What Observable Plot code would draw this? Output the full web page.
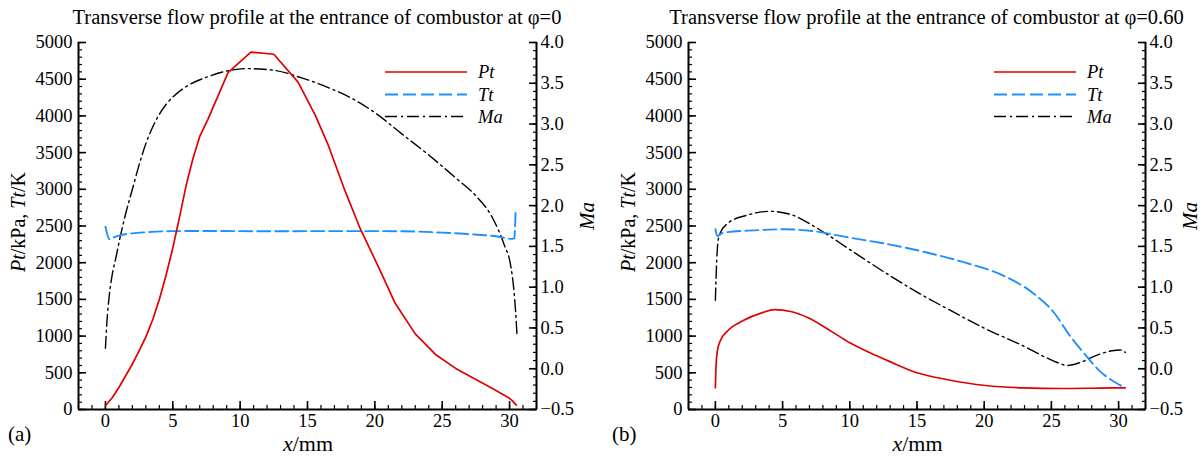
<!DOCTYPE html>
<html><head><meta charset="utf-8">
<script src="https://cdn.jsdelivr.net/npm/d3@7"></script>
<script src="https://cdn.jsdelivr.net/npm/@observablehq/plot@0.6"></script>
<style>
body{margin:0;background:#fff;}
#wrap{display:flex;width:1201px;height:457px;overflow:hidden;}
svg text{font-family:"Liberation Serif","Times New Roman",serif;}
</style></head><body><div id="wrap"></div>
<script>
// ---------- data (a) φ=0 ----------
const ptXA = [0, 0.5, 1, 1.5, 2, 2.5, 3, 3.5, 4, 4.5, 5, 5.5, 6, 6.5, 7, 7.6, 9.1, 10.8, 12.5, 14.3, 15.6, 16.5, 17.7, 18.9, 20.3, 21.5, 23, 24.5, 26, 27.5, 28.8, 29.9, 30.2, 30.5];
const ptA  = [50, 160, 300, 460, 620, 800, 990, 1220, 1500, 1830, 2200, 2620, 3060, 3420, 3720, 3950, 4590, 4870, 4840, 4460, 4000, 3620, 3020, 2470, 1930, 1450, 1030, 750, 560, 410, 280, 165, 120, 60];
const ttXA = [0, 0.3, 0.6, 1, 2, 3, 5, 8, 12, 16, 20, 23, 25, 27, 29, 30.2, 30.35, 30.45];
const ttA  = [2490, 2320, 2345, 2370, 2400, 2415, 2430, 2432, 2428, 2430, 2430, 2425, 2410, 2390, 2360, 2325, 2330, 2700];
const maXA = [0, 0.1, 0.3, 0.5, 0.8, 1.1, 1.5, 2, 2.5, 3, 3.5, 4, 4.5, 5, 6, 7.6, 9, 10.5, 12.5, 14.5, 16.5, 18, 20, 22, 24, 26, 27.5, 28.7, 29.6, 30.1, 30.3, 30.45, 30.55];
const maA  = [0.25, 0.55, 0.92, 1.15, 1.38, 1.62, 1.9, 2.2, 2.5, 2.76, 2.96, 3.12, 3.24, 3.33, 3.46, 3.58, 3.65, 3.68, 3.66, 3.57, 3.45, 3.34, 3.14, 2.88, 2.62, 2.34, 2.12, 1.86, 1.52, 1.25, 1.0, 0.7, 0.42];
// ---------- data (b) φ=0.60 ----------
const ptXB = [0, 0.05, 0.15, 0.35, 0.9, 2, 3.5, 4.4, 5.6, 6.9, 8.6, 10, 11.5, 12.9, 15, 17.2, 20.1, 22.9, 25.8, 28.6, 30.5];
const ptB  = [295, 600, 800, 930, 1070, 1205, 1320, 1360, 1335, 1250, 1068, 909, 773, 659, 500, 409, 327, 295, 286, 292, 295];
const ttXB = [0, 0.15, 0.6, 2.9, 5.1, 7.2, 10, 12.9, 15.8, 18.6, 21.5, 23.6, 25.2, 26.3, 27.5, 28.6, 29.8, 30.5];
const ttB  = [2455, 2364, 2410, 2441, 2455, 2432, 2341, 2250, 2136, 2000, 1818, 1591, 1318, 1023, 750, 523, 364, 295];
const maXB = [0, 0.1, 0.2, 0.35, 0.9, 2.3, 4.1, 5.8, 7.5, 10.1, 12.9, 15.1, 17.2, 20.1, 22.9, 25.1, 26.2, 27.2, 28.3, 29.5, 30.1, 30.5];
const maB  = [0.84, 1.33, 1.57, 1.66, 1.78, 1.88, 1.93, 1.88, 1.73, 1.45, 1.15, 0.93, 0.74, 0.49, 0.28, 0.10, 0.04, 0.08, 0.16, 0.22, 0.23, 0.20];
// ---------- ticks & labels ----------
const xTicks  = [0, 5, 10, 15, 20, 25, 30];
const yTicks  = [0, 500, 1000, 1500, 2000, 2500, 3000, 3500, 4000, 4500, 5000];
const maTicks = [-0.5, 0, 0.5, 1.0, 1.5, 2.0, 2.5, 3.0, 3.5, 4.0];
const titles  = ["Transverse flow profile at the entrance of combustor at φ=0",
                 "Transverse flow profile at the entrance of combustor at φ=0.60"];
const panelTags = ["(a)", "(b)"];
const seriesNames = ["Pt", "Tt", "Ma"];

const xMinor  = d3.range(-2, 33, 1);
const yMinor  = d3.range(0, 5001, 100);
const maMinor = d3.range(-5, 41, 1).map(d => d / 10);

const maToY = m => (m + 0.5) * 5000 / 4.5;
const yToMa = y => Math.round((y * 4.5 / 5000 - 0.5) * 10) / 10;
const rows = (xs, vs, f = v => v) => xs.map((x, i) => ({x, v: f(vs[i])}));

const RED = "#e00000", BLUE = "#1e8fff", BLACK = "#000";

function panel({width, mL, mR, px, p, tx, t, mx, m, idx, maOff, tagX}) {
  const W = width - mL - mR;
  const svg = Plot.plot({
    width, height: 457, marginTop: 42, marginBottom: 48, marginLeft: mL, marginRight: mR,
    style: {fontFamily: "'Liberation Serif', serif", fontSize: "18.5px", color: "#000", background: "#fff", overflow: "visible"},
    x: {domain: [-2, 32]},
    y: {domain: [0, 5000]},
    marks: [
      Plot.axisX({ticks: xTicks, tickSize: -8, tickPadding: 12, strokeWidth: 1.6, fontSize: 18.5, label: null}),
      Plot.axisX({ticks: xMinor, tickSize: -4, strokeWidth: 1.2, fill: "none", label: null}),
      Plot.axisY({anchor: "left", ticks: yTicks, tickFormat: "d", tickSize: -8, tickPadding: 14, strokeWidth: 1.6, fontSize: 18.5, label: null}),
      Plot.axisY({anchor: "left", ticks: yMinor, tickSize: -4, strokeWidth: 1.2, fill: "none", label: null}),
      Plot.axisY({anchor: "right", ticks: maTicks.map(maToY), tickFormat: d => d3.format(".1f")(yToMa(d)), tickSize: -8, tickPadding: 12, strokeWidth: 1.6, fontSize: 18.5, label: null}),
      Plot.axisY({anchor: "right", ticks: maMinor.map(maToY), tickSize: -4, strokeWidth: 1.2, fill: "none", label: null}),
      Plot.line(rows(mx, m, maToY), {x: "x", y: "v", stroke: BLACK, strokeWidth: 1.4, strokeDasharray: "12,4,2,4", curve: "monotone-x"}),
      Plot.line(rows(tx, t), {x: "x", y: "v", stroke: BLUE, strokeWidth: 1.9, strokeDasharray: "13,5", curve: "monotone-x"}),
      Plot.line(rows(px, p), {x: "x", y: "v", stroke: RED, strokeWidth: 1.7, curve: idx === 0 ? "linear" : "monotone-x"}),
      Plot.ruleX([-2, 32], {stroke: "#000", strokeWidth: 2}),
      Plot.ruleY([0], {stroke: "#000", strokeWidth: 2})
    ]
  });
  const s = d3.select(svg);
  const cx = mL + W / 2;
  const g = s.append("g").attr("font-family", "'Liberation Serif', serif").attr("fill", "#000").attr("text-anchor", "start");
  g.append("text").attr("x", cx + 10).attr("y", 24).attr("text-anchor", "middle").attr("font-size", 20.5).text(titles[idx]);
  g.append("text").attr("x", tagX).attr("y", 441).attr("text-anchor", "start").attr("font-size", 21).text(panelTags[idx]);
  const xl = g.append("text").attr("x", cx + 1).attr("y", 451).attr("text-anchor", "middle").attr("font-size", 22);
  xl.append("tspan").attr("font-style", "italic").text("x");
  xl.append("tspan").text("/mm");
  const yl = g.append("text").attr("transform", `translate(${mL - 53},222) rotate(-90)`).attr("text-anchor", "middle").attr("font-size", 20);
  yl.append("tspan").attr("font-style", "italic").text("Pt");
  yl.append("tspan").text("/kPa, ");
  yl.append("tspan").attr("font-style", "italic").text("Tt");
  yl.append("tspan").text("/K");
  g.append("text").attr("transform", `translate(${mL + W + maOff},216) rotate(-90)`).attr("text-anchor", "middle").attr("font-size", 21).attr("font-style", "italic").text("Ma");
  // legend
  const lx1 = mL + W - 151, lx2 = mL + W - 69;
  const leg = [[RED, null, 1.7], [BLUE, "13,5", 1.9], [BLACK, "12,4,2,4", 1.4]];
  const ly = [72, 94.5, 116.5];
  leg.forEach(([c, dash, w], i) => {
    const ln = g.append("line").attr("x1", lx1).attr("x2", lx2).attr("y1", ly[i]).attr("y2", ly[i]).attr("stroke", c).attr("stroke-width", w);
    if (dash) ln.attr("stroke-dasharray", dash);
    g.append("text").attr("x", lx2 + 11).attr("y", ly[i] + 6).attr("text-anchor", "start").attr("font-size", 18.5).attr("font-style", "italic").text(seriesNames[i]);
  });
  return svg;
}

const wrap = document.getElementById("wrap");
wrap.append(panel({width: 600, mL: 78, mR: 64, px: ptXA, p: ptA, tx: ttXA, t: ttA, mx: maXA, m: maA, idx: 0, maOff: 58, tagX: 8}));
wrap.append(panel({width: 601, mL: 88, mR: 56, px: ptXB, p: ptB, tx: ttXB, t: ttB, mx: maXB, m: maB, idx: 1, maOff: 52, tagX: 12}));
</script></body></html>
